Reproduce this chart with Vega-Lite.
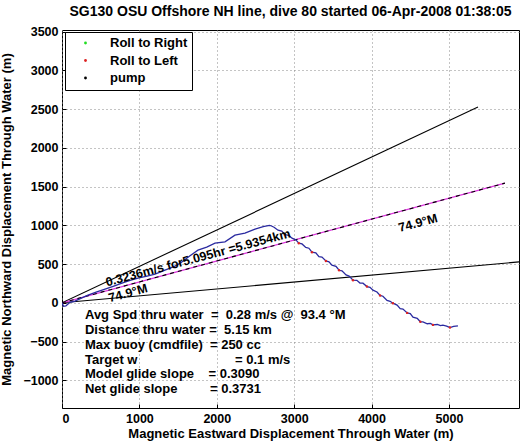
{
  "$schema": "https://vega.github.io/schema/vega-lite/v6.json",
  "autosize": "none",
  "width": 457,
  "height": 378,
  "padding": {"left": 62, "top": 30, "right": 9, "bottom": 34},
  "background": "white",
  "title": {"text": "SG130 OSU Offshore NH line, dive 80 started 06-Apr-2008 01:38:05", "font": "Liberation Sans", "fontSize": 14, "fontWeight": "bold", "color": "black", "offset": 7, "anchor": "middle"},
  "config": {
    "view": {"stroke": "black", "strokeWidth": 1},
    "axis": {"labelFont": "Liberation Sans", "labelFontSize": 12.5, "labelFontWeight": "bold", "labelColor": "black", "titleFont": "Liberation Sans", "titleFontSize": 13, "titleFontWeight": "bold", "titleColor": "black", "domain": false, "tickColor": "black", "tickSize": -4, "grid": true, "gridColor": "#888888", "gridDash": [1, 3], "gridWidth": 1}
  },
  "datasets": {
    "track": [
      {"x": 0, "y": 0}, {"x": 20, "y": -45}, {"x": 50, "y": -40}, {"x": 100, "y": 5}, {"x": 168, "y": 21}, {"x": 250, "y": 60}, {"x": 336, "y": 98}, {"x": 450, "y": 140}, {"x": 556, "y": 176}, {"x": 670, "y": 215}, {"x": 775, "y": 253}, {"x": 880, "y": 290}, {"x": 982, "y": 318}, {"x": 1100, "y": 345}, {"x": 1202, "y": 370}, {"x": 1331, "y": 421}, {"x": 1460, "y": 473}, {"x": 1540, "y": 520}, {"x": 1628, "y": 589}, {"x": 1700, "y": 640}, {"x": 1757, "y": 680}, {"x": 1870, "y": 720}, {"x": 1977, "y": 770}, {"x": 2106, "y": 787}, {"x": 2235, "y": 873}, {"x": 2364, "y": 899}, {"x": 2494, "y": 951}, {"x": 2600, "y": 985}, {"x": 2680, "y": 1000},
      {"x": 2700, "y": 995}, {"x": 2740, "y": 975}, {"x": 2791, "y": 938}, {"x": 2840, "y": 925}, {"x": 2880, "y": 880}, {"x": 2930, "y": 870}, {"x": 2972, "y": 835}, {"x": 3020, "y": 815}, {"x": 3060, "y": 770}, {"x": 3101, "y": 760}, {"x": 3150, "y": 715}, {"x": 3190, "y": 705}, {"x": 3230, "y": 654}, {"x": 3280, "y": 645}, {"x": 3320, "y": 595}, {"x": 3359, "y": 590}, {"x": 3410, "y": 540}, {"x": 3450, "y": 530}, {"x": 3488, "y": 486}, {"x": 3540, "y": 470}, {"x": 3580, "y": 420}, {"x": 3618, "y": 412}, {"x": 3670, "y": 360}, {"x": 3710, "y": 345}, {"x": 3760, "y": 292}, {"x": 3810, "y": 290}, {"x": 3850, "y": 255}, {"x": 3889, "y": 253}, {"x": 3940, "y": 210}, {"x": 3980, "y": 200}, {"x": 4018, "y": 163}, {"x": 4070, "y": 140}, {"x": 4110, "y": 95}, {"x": 4147, "y": 85}, {"x": 4200, "y": 30}, {"x": 4240, "y": 20}, {"x": 4276, "y": -5}, {"x": 4330, "y": -30}, {"x": 4370, "y": -75}, {"x": 4406, "y": -80}, {"x": 4460, "y": -130}, {"x": 4500, "y": -140}, {"x": 4535, "y": -186}, {"x": 4590, "y": -200}, {"x": 4630, "y": -245}, {"x": 4664, "y": -245}, {"x": 4720, "y": -270}, {"x": 4760, "y": -265}, {"x": 4793, "y": -285}, {"x": 4850, "y": -280}, {"x": 4890, "y": -295}, {"x": 4922, "y": -289}, {"x": 4970, "y": -300}, {"x": 5013, "y": -320}, {"x": 5060, "y": -305}, {"x": 5116, "y": -298}
    ],
    "rolls": [
      {"series": "Roll to Left", "x": 2880, "y": 880}, {"series": "Roll to Left", "x": 3060, "y": 770}, {"series": "Roll to Left", "x": 3230, "y": 654}, {"series": "Roll to Left", "x": 3410, "y": 540}, {"series": "Roll to Left", "x": 3580, "y": 420}, {"series": "Roll to Left", "x": 3760, "y": 292}, {"series": "Roll to Left", "x": 3940, "y": 210}, {"series": "Roll to Left", "x": 4110, "y": 95}, {"series": "Roll to Left", "x": 4276, "y": -5}, {"series": "Roll to Left", "x": 4460, "y": -130}, {"series": "Roll to Left", "x": 4630, "y": -245}, {"series": "Roll to Left", "x": 4793, "y": -285}, {"series": "Roll to Left", "x": 5013, "y": -320}
    ],
    "bounds": [
      {"line": "upper", "x": 0, "y": 0}, {"line": "upper", "x": 5375, "y": 2527},
      {"line": "lower", "x": 0, "y": 0}, {"line": "lower", "x": 5905, "y": 528}
    ],
    "heading": [
      {"x": 0, "y": 0}, {"x": 5723, "y": 1545}
    ],
    "slanted": [
      {"label": "0.3236m/s for5.095hr =5.9354km", "x": 1757, "y": 580},
      {"label": "74.9°M", "x": 853, "y": 124},
      {"label": "74.9°M", "x": 4600, "y": 1030}
    ],
    "stats": [
      {"label": "Avg Spd thru water\u00a0\u00a0=\u00a0\u00a00.28 m/s @\u00a0\u00a093.4 °M", "x": 297, "y": -160},
      {"label": "Distance thru water =\u00a0\u00a05.15 km", "x": 297, "y": -354},
      {"label": "Max buoy (cmdfile)\u00a0\u00a0= 250 cc", "x": 297, "y": -548},
      {"label": "Target w\u00a0\u00a0\u00a0\u00a0\u00a0\u00a0\u00a0\u00a0\u00a0\u00a0\u00a0\u00a0\u00a0\u00a0\u00a0\u00a0\u00a0\u00a0\u00a0\u00a0\u00a0\u00a0\u00a0\u00a0\u00a0\u00a0\u00a0= 0.1 m/s", "x": 297, "y": -738},
      {"label": "Model glide slope\u00a0\u00a0\u00a0\u00a0= 0.3090", "x": 297, "y": -923},
      {"label": "Net glide slope\u00a0\u00a0\u00a0\u00a0\u00a0\u00a0\u00a0\u00a0\u00a0= 0.3731", "x": 297, "y": -1117}
    ]
  },
  "encoding": {
    "x": {"field": "x", "type": "quantitative", "scale": {"domain": [0, 5905], "nice": false, "zero": false}, "axis": {"title": "Magnetic Eastward Displacement Through Water (m)", "values": [0, 1000, 2000, 3000, 4000, 5000], "format": "d", "labelPadding": 8, "titlePadding": 3}},
    "y": {"field": "y", "type": "quantitative", "scale": {"domain": [-1358, 3522], "nice": false, "zero": false}, "axis": {"title": "Magnetic Northward Displacement Through Water (m)", "values": [-1000, -500, 0, 500, 1000, 1500, 2000, 2500, 3000, 3500], "format": "d", "labelPadding": 8, "titlePadding": 9}}
  },
  "layer": [
    {"data": {"name": "bounds"}, "mark": {"type": "line", "color": "black", "strokeWidth": 1.1, "clip": true}, "encoding": {"detail": {"field": "line"}}},
    {"data": {"name": "heading"}, "mark": {"type": "line", "color": "#dd33dd", "strokeWidth": 1.3, "clip": true}, "encoding": {}},
    {"data": {"name": "heading"}, "mark": {"type": "line", "color": "black", "strokeWidth": 1.1, "strokeDash": [4, 4], "clip": true}, "encoding": {}},
    {"data": {"name": "track"}, "mark": {"type": "line", "color": "#2a2aa0", "strokeWidth": 1.3, "clip": true}, "encoding": {"order": {"field": "x", "type": "quantitative"}}},
    {"data": {"name": "rolls"}, "mark": {"type": "point", "filled": true, "size": 6, "opacity": 1}, "encoding": {"color": {"field": "series", "type": "nominal", "scale": {"domain": ["Roll to Right", "Roll to Left", "pump"], "range": ["#22dd22", "#dd2222", "#000000"]}, "legend": {"title": null, "orient": "none", "legendX": 3, "legendY": 2, "strokeColor": "black", "fillColor": "white", "padding": 4.5, "symbolType": "circle", "symbolSize": 8, "symbolOffset": 9.5, "labelOffset": 18, "rowPadding": 3.5, "labelFont": "Liberation Sans", "labelFontSize": 13, "labelFontWeight": "bold", "labelColor": "black"}}}},
    {"data": {"name": "slanted"}, "mark": {"type": "text", "angle": 345, "align": "center", "baseline": "middle", "font": "Liberation Sans", "fontSize": 12.5, "fontWeight": "bold", "color": "black"}, "encoding": {"text": {"field": "label"}}},
    {"data": {"name": "stats"}, "mark": {"type": "text", "align": "left", "baseline": "middle", "font": "Liberation Sans", "fontSize": 13, "fontWeight": "bold", "color": "black"}, "encoding": {"text": {"field": "label"}}}
  ]
}
